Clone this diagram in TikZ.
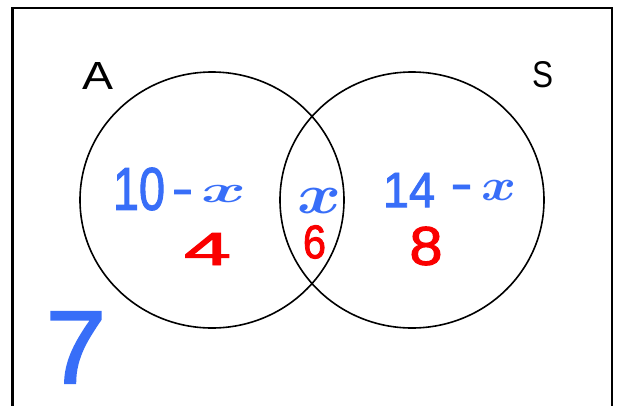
\documentclass[tikz,border=0pt]{standalone}
\usepackage{fontspec}
\setmainfont{Liberation Sans}
\newfontfamily\handfont[FakeBold=2]{Liberation Sans}
\usepackage{graphicx}
\usetikzlibrary{shapes.geometric}
\definecolor{hblue}{RGB}{56,110,248}
\definecolor{hred}{RGB}{250,0,0}
\newcommand\hw[3]{\resizebox{#1pt}{#2pt}{#3}}
\begin{document}
\begin{tikzpicture}[x=1pt,y=-1pt,
  ring/.style={draw=black,line width=1.6pt,ellipse,inner sep=0pt,
    minimum width=264pt,minimum height=256pt},
  frame/.style={line width=2.4pt},
  hb/.style={text=hblue,inner sep=0pt,font=\handfont},
  hr/.style={text=hred,inner sep=0pt,font=\handfont},
  setname/.style={text=black,inner sep=0pt}]
\useasboundingbox (0,0) rectangle (618,405);
\draw[frame] (12.5,406) -- (12.5,8) -- (612,8) -- (612,406);
\node[ring] (setA) at (212,200) {};
\node[ring] (setS) at (412,200) {};
\node[setname] (labA) at (97.5,75.5) {\hw{31}{27}{A}};
\node[setname] (labS) at (542.5,75) {\hw{21}{26}{S}};
% A only
\node[hb] (a10) at (139,189) {\hw{52}{42}{10}};
\node[hb] (aminus) at (182.5,197.5) {\hw{21}{15}{-}};
\node[hb] (ax) at (223.5,193.5) {\hw{45}{17}{\boldmath$x$}};
% intersection
\node[hb] (mx) at (319,200.5) {\hw{44}{25}{\boldmath$x$}};
% S only
\node[hb] (s14) at (409,190) {\hw{52}{34}{14}};
\node[hb] (sminus) at (461.5,192.5) {\hw{22}{15}{-}};
\node[hb] (sx) at (498.5,190) {\hw{35}{20}{\boldmath$x$}};
% red values
\node[hr] (r4) at (207.5,249) {\hw{47}{32}{4}};
\node[hr] (r6) at (314.5,242) {\hw{23}{33}{6}};
\node[hr] (r8) at (426,246) {\hw{33}{38}{8}};
% outside
\node[hb] (out7) at (76,347.5) {\hw{60}{71}{7}};
\end{tikzpicture}
\end{document}
